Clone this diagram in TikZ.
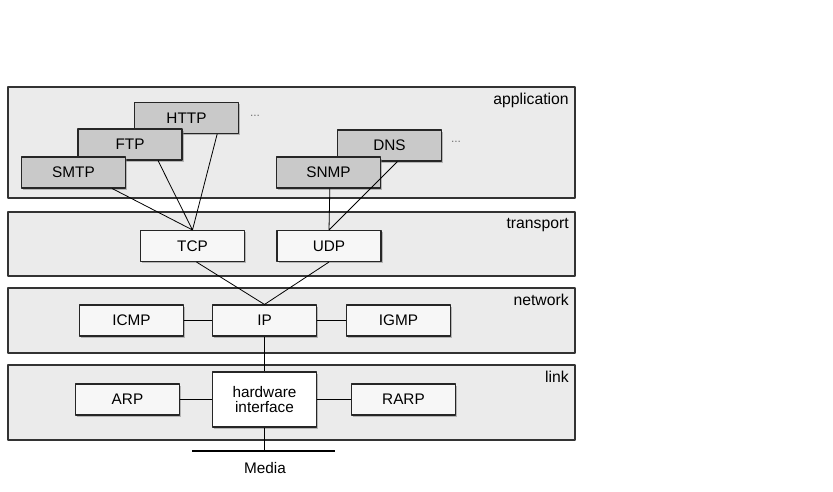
\documentclass[tikz,border=0pt]{standalone}
\usepackage{fontspec}
\setmainfont{Liberation Sans}
\usetikzlibrary{shadows}
\begin{document}
\begin{tikzpicture}[x=0.75pt, y=-0.75pt, font=\fontsize{11.5}{13}\selectfont, line join=round, line cap=round,
	layer/.style={draw=black!80, line width=0.9pt, fill=gray!16, minimum width=425.25pt, inner sep=0pt},
	proto/.style={draw=black!85, line width=0.8pt, fill=gray!6, minimum width=78pt, minimum height=23.25pt, inner sep=0pt,
		drop shadow={shadow xshift=1.3pt, shadow yshift=-1.3pt, fill=gray, opacity=0.5}},
	app/.style={proto, fill=gray!42},
	tag/.style={anchor=north east, font=\fontsize{11.8}{13}\selectfont, inner sep=3pt},
	dots/.style={text=black!55, font=\fontsize{9}{10}\selectfont},
	wire/.style={line width=0.6pt, line cap=butt}]
	\useasboundingbox (0,0) rectangle (833,492);
	% the four layers
	\node[layer, minimum height=83.25pt] (application) at (291.5,142.5) {};
	\node[layer, minimum height=48pt] (transport) at (291.5,244) {};
	\node[layer, minimum height=48.75pt] (network) at (291.5,320.5) {};
	\node[layer, minimum height=56.25pt] (link) at (291.5,402.5) {};
	\foreach \l in {application,transport,network,link}
	\node[tag] (\l tag) at ([shift={(-2pt,-2pt)}]\l.north east) {\l};
	% application protocols
	\node[app] (HTTP) at (186.5,118) {HTTP};
	\node[app] (FTP) at (130,144.5) {FTP};
	\node[app] (SMTP) at (73.5,172.5) {SMTP};
	\node[app] (DNS) at (389.5,145.5) {DNS};
	\node[app] (SNMP) at (328.5,172.5) {SNMP};
	\node[dots] (HTTPdots) at (255,116) {...};
	\node[dots] (DNSdots) at (456,142) {...};
	% lower protocols
	\node[proto] (TCP) at (192.5,246) {TCP};
	\node[proto] (UDP) at (329,246) {UDP};
	\node[proto] (ICMP) at (131.5,320.5) {ICMP};
	\node[proto] (IP) at (264.5,320.5) {IP};
	\node[proto] (IGMP) at (398.5,320.5) {IGMP};
	\node[proto] (ARP) at (127.5,399.5) {ARP};
	\node[proto, fill=white, minimum height=41.25pt, align=center] (hw) at (264.5,399.5) {hardware\\[-2pt]interface};
	\node[proto] (RARP) at (403.5,399.5) {RARP};
	% connections
	\draw[wire] ([xshift=29pt]SMTP.south)--(TCP.north) ([xshift=21pt]FTP.south)--(TCP.north) ([xshift=23pt]HTTP.south)--(TCP.north);
	\draw[wire] ([xshift=1pt]SNMP.south)--(UDP.north) ([xshift=6pt]DNS.south)--(UDP.north);
	\draw[wire] ([xshift=3pt]TCP.south)--(IP.north) (UDP.south)--(IP.north);
	\draw[wire] (ICMP)--(IP)--(IGMP) (IP)--(hw) (ARP)--(hw)--(RARP);
	% media
	\path (192,451) coordinate (m1) (335,451) coordinate (m2);
	\draw[line width=2.2pt, line cap=butt] (m1)--(m2);
	\draw[wire] (hw.south)--(hw.south |- m1);
	\node (media) at (265,468) {Media};
\end{tikzpicture}
\end{document}
